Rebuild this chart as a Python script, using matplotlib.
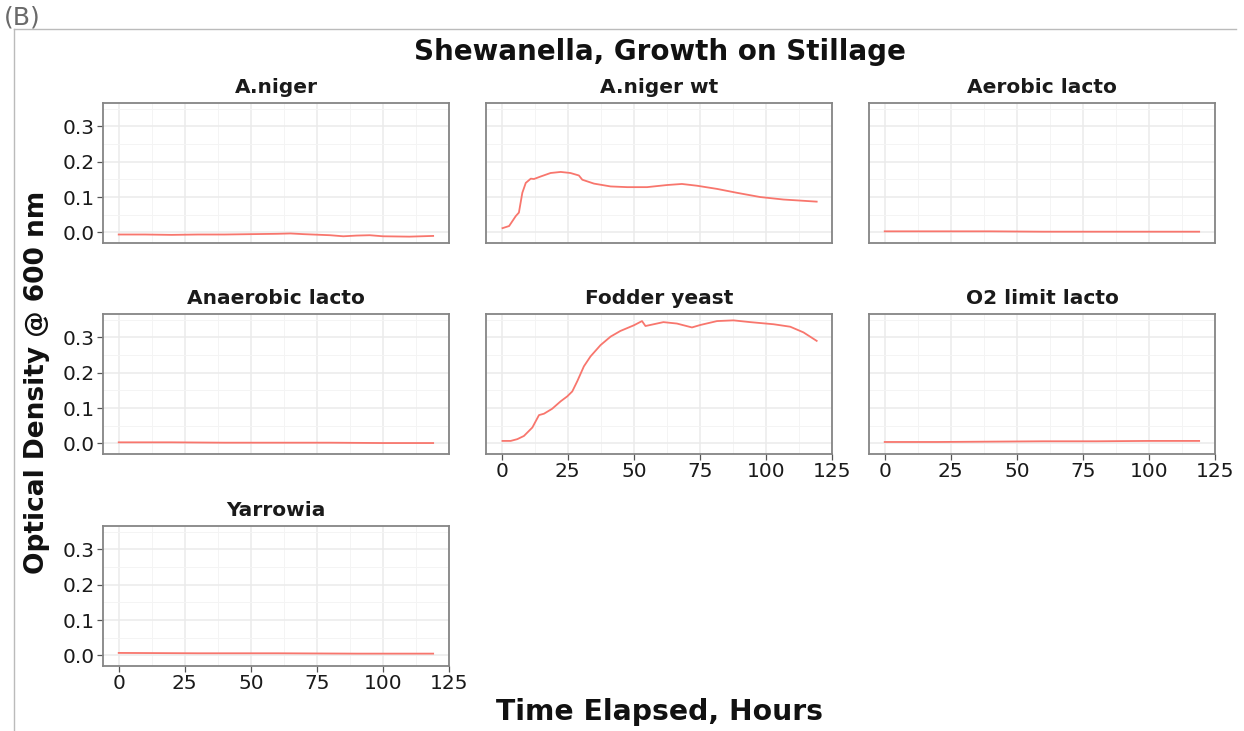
import matplotlib
matplotlib.use("Agg")
import matplotlib.pyplot as plt
from matplotlib.lines import Line2D
from matplotlib.ticker import MultipleLocator

plt.rcParams['font.family'] = ['DejaVu Sans']

# ---------------- data ----------------
panel_names = ["A.niger", "A.niger wt", "Aerobic lacto",
               "Anaerobic lacto", "Fodder yeast", "O2 limit lacto",
               "Yarrowia"]

aniger_t = [0, 10, 20, 30, 40, 50, 60, 65, 70, 80, 85, 90, 95, 100, 110, 119]
aniger_od = [-0.006, -0.006, -0.007, -0.006, -0.006, -0.005, -0.004, -0.003,
             -0.005, -0.008, -0.011, -0.009, -0.008, -0.011, -0.012, -0.010]

anigerwt_t = [0.3, 2.8, 5.3, 6.5, 7.8, 9.1, 11, 12.2, 14.7, 18.5, 22.3, 26,
              29.2, 30.5, 34.9, 41.2, 47.5, 55, 62.6, 68.2, 73.9, 81.5, 89,
              97.8, 106.6, 119.2]
anigerwt_od = [0.012, 0.018, 0.046, 0.056, 0.112, 0.140, 0.152, 0.151, 0.158,
               0.168, 0.171, 0.168, 0.161, 0.149, 0.138, 0.130, 0.128, 0.128,
               0.134, 0.137, 0.132, 0.123, 0.112, 0.100, 0.093, 0.087]

aerobic_t = [0, 20, 40, 60, 70, 80, 100, 119]
aerobic_od = [0.003, 0.003, 0.003, 0.002, 0.002, 0.002, 0.002, 0.002]

anaerobic_t = [0, 20, 40, 60, 80, 100, 119]
anaerobic_od = [0.003, 0.003, 0.002, 0.002, 0.002, 0.001, 0.001]

fodder_t = [0.3, 3.4, 5.9, 8.4, 11.6, 14.1, 16, 19.1, 22.3, 24.8, 26.7, 28.6,
            31.1, 33.6, 37.4, 41.2, 44.9, 50, 53.1, 54.4, 61.2, 66.3, 72,
            75.2, 81.5, 87.7, 94.1, 102.9, 109.2, 114.2, 119.2]
fodder_od = [0.007, 0.007, 0.012, 0.021, 0.045, 0.080, 0.084, 0.098, 0.119,
             0.133, 0.147, 0.176, 0.218, 0.246, 0.278, 0.302, 0.318, 0.334,
             0.346, 0.332, 0.343, 0.339, 0.328, 0.335, 0.346, 0.348, 0.343,
             0.337, 0.330, 0.314, 0.290]

o2_t = [0, 20, 40, 60, 80, 100, 119]
o2_od = [0.004, 0.004, 0.005, 0.006, 0.006, 0.007, 0.007]

yarrowia_t = [0, 30, 60, 90, 119]
yarrowia_od = [0.007, 0.006, 0.006, 0.005, 0.005]

series_t = [aniger_t, anigerwt_t, aerobic_t, anaerobic_t, fodder_t, o2_t, yarrowia_t]
series_od = [aniger_od, anigerwt_od, aerobic_od, anaerobic_od, fodder_od, o2_od, yarrowia_od]

x_ticks = [0, 25, 50, 75, 100, 125]
y_ticks = [0.0, 0.1, 0.2, 0.3]

# ---------------- layout ----------------
W, H = 1244, 731
fig = plt.figure(figsize=(W / 100, H / 100), dpi=100)

col_left = [103, 486, 869]
row_top = [103, 314, 526]
pw, ph = 346, 140

line_color = "#F8766D"
xlim = (-5.95, 124.95)
ylim = (-0.030, 0.366)

for i, name in enumerate(panel_names):
    r, c = divmod(i, 3)
    l, t = col_left[c], row_top[r]
    ax = fig.add_axes([l / W, 1 - (t + ph) / H, pw / W, ph / H])
    ax.plot(series_t[i], series_od[i], color=line_color, lw=1.3)
    ax.set_xlim(*xlim)
    ax.set_ylim(*ylim)
    ax.set_xticks(x_ticks)
    ax.set_yticks(y_ticks)
    ax.xaxis.set_minor_locator(MultipleLocator(12.5))
    ax.yaxis.set_minor_locator(MultipleLocator(0.05))
    ax.grid(which="major", color="#EBEBEB", lw=1.1)
    ax.grid(which="minor", color="#F4F4F4", lw=0.7)
    ax.set_axisbelow(True)
    for s in ax.spines.values():
        s.set_color("#858585")
        s.set_linewidth(1.3)
    ax.tick_params(which="minor", length=0)
    ax.tick_params(which="major", length=4, width=0.9, color="#555555",
                   labelsize=14.5, labelcolor="#1a1a1a", pad=2)
    show_x = name in ("Fodder yeast", "O2 limit lacto", "Yarrowia")
    show_y = c == 0
    if not show_x:
        ax.tick_params(axis="x", length=0, labelbottom=False)
    if not show_y:
        ax.tick_params(axis="y", length=0, labelleft=False)
    else:
        ax.set_yticklabels([f"{v:.1f}" for v in y_ticks])
    ax.set_title(name, fontsize=14.5, fontweight="bold", color="#1a1a1a", pad=7)

# titles / axis labels
fig.text(660 / W, 1 - 52 / H, "Shewanella, Growth on Stillage", ha="center",
         va="center", fontsize=20, fontweight="bold", color="#111111")
fig.text(660 / W, 1 - 712 / H, "Time Elapsed, Hours", ha="center", va="center",
         fontsize=20.3, fontweight="bold", color="#111111")
fig.text(37 / W, 1 - 382 / H, "Optical Density @ 600 nm", ha="center",
         va="center", rotation=90, fontsize=19, fontweight="bold",
         color="#111111")

# outer frame lines and panel label
fig.add_artist(Line2D([14 / W, 1236 / W], [1 - 29 / H, 1 - 29 / H],
                      transform=fig.transFigure, color="#BBBBBB", lw=1.0))
fig.add_artist(Line2D([14 / W, 14 / W], [1 - 29 / H, 0],
                      transform=fig.transFigure, color="#BBBBBB", lw=1.0))
fig.text(4 / W, 1 - 17 / H, "(B)", ha="left", va="center", fontsize=18,
         color="#6a6a6a")

fig.savefig("out.png", dpi=100)
